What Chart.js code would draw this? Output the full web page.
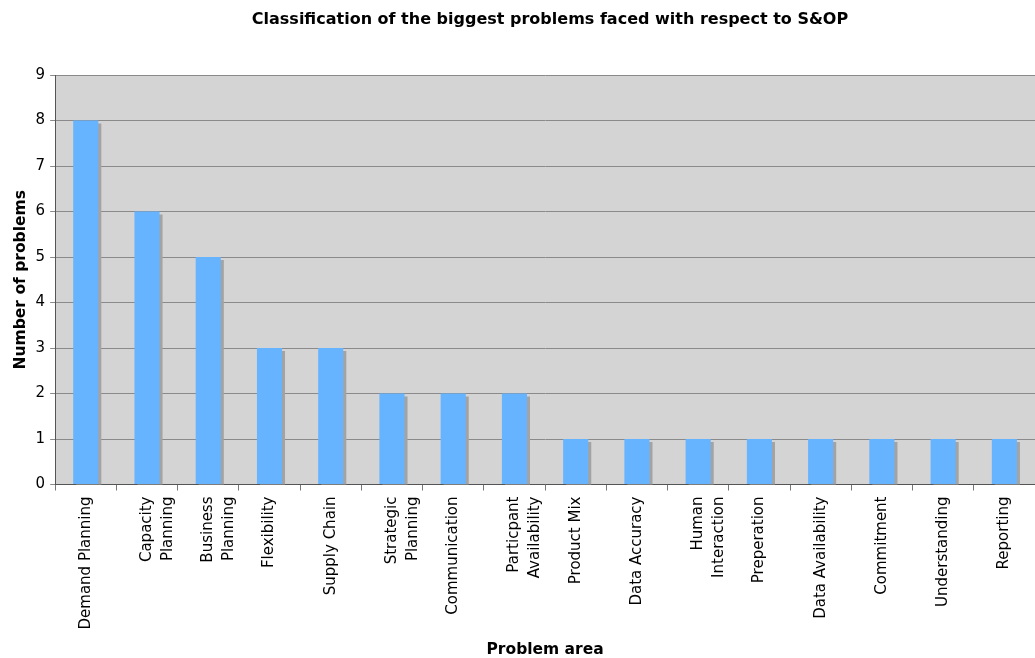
<!DOCTYPE html>
<html>
<head>
<meta charset="utf-8">
<script src="https://cdn.jsdelivr.net/npm/chart.js@4/dist/chart.umd.min.js"></script>
<style>
  html, body { margin: 0; padding: 0; background: #ffffff; }
  #wrap { width: 1035px; height: 658px; position: relative; }
</style>
</head>
<body>
<div id="wrap"><canvas id="c" width="1035" height="658"></canvas></div>
<script>
const categories = [
  "Demand Planning",
  ["Capacity", "Planning"],
  ["Business", "Planning"],
  "Flexibility",
  "Supply Chain",
  ["Strategic", "Planning"],
  "Communication",
  ["Particpant", "Availability"],
  "Product Mix",
  "Data Accuracy",
  ["Human", "Interaction"],
  "Preperation",
  "Data Availability",
  "Commitment",
  "Understanding",
  "Reporting"
];
const problemCounts = [8, 6, 5, 3, 3, 2, 2, 2, 1, 1, 1, 1, 1, 1, 1, 1];
const yTicks = [0, 1, 2, 3, 4, 5, 6, 7, 8, 9];

const chartTitle = "Classification of the biggest problems faced with respect to S&OP";
const xTitle = "Problem area";
const yTitle = "Number of problems";

const FONT = "'DejaVu Sans', Verdana, sans-serif";

const plotBg = {
  id: 'plotBg',
  beforeDraw(chart) {
    const { ctx, chartArea: a } = chart;
    ctx.save();
    ctx.fillStyle = '#d4d4d4';
    ctx.fillRect(a.left, a.top, a.right - a.left, a.bottom - a.top);
    ctx.restore();
  }
};

const topTitle = {
  id: 'topTitle',
  afterDraw(chart) {
    const ctx = chart.ctx;
    ctx.save();
    ctx.fillStyle = '#000000';
    ctx.font = "bold 16px " + FONT;
    ctx.textAlign = 'center';
    ctx.textBaseline = 'middle';
    ctx.fillText(chartTitle, 550, 20);
    ctx.restore();
  }
};

const barShadow = {
  id: 'barShadow',
  beforeDatasetsDraw(chart) {
    const ctx = chart.ctx;
    ctx.save();
    ctx.shadowColor = '#a3a3a3';
    ctx.shadowOffsetX = 3;
    ctx.shadowOffsetY = 3;
    ctx.shadowBlur = 0;
  },
  afterDatasetsDraw(chart) {
    chart.ctx.restore();
  }
};

new Chart(document.getElementById('c'), {
  type: 'bar',
  data: {
    labels: categories,
    datasets: [{
      data: problemCounts,
      backgroundColor: '#66b3ff',
      borderWidth: 0,
      categoryPercentage: 1.0,
      barPercentage: 0.41
    }]
  },
  options: {
    responsive: false,
    animation: false,
    layout: { padding: { left: 12, right: 0, top: 75, bottom: 0 } },
    plugins: {
      legend: { display: false },
      tooltip: { enabled: false },
      title: { display: false }
    },
    scales: {
      x: {
        offset: true,
        grid: {
          offset: true,
          drawOnChartArea: false,
          drawTicks: true,
          tickLength: 6,
          color: '#777777'
        },
        border: { color: '#555555', width: 1 },
        ticks: {
          color: '#000000',
          font: { family: FONT, size: 15, lineHeight: 1.4 },
          maxRotation: 90,
          minRotation: 90,
          autoSkip: false,
          padding: 6
        },
        title: {
          display: true,
          text: xTitle,
          color: '#000000',
          font: { family: FONT, size: 15.5, weight: 'bold', lineHeight: 1 },
          padding: { top: 7, bottom: 0 }
        }
      },
      y: {
        min: 0,
        max: 9,
        afterBuildTicks(scale) {
          scale.ticks = yTicks.map(v => ({ value: v }));
        },
        grid: {
          color: '#8a8a8a',
          tickLength: 5,
          drawTicks: true
        },
        border: { color: '#555555', width: 1 },
        ticks: {
          color: '#000000',
          font: { family: FONT, size: 15 },
          padding: 5
        },
        title: {
          display: true,
          text: yTitle,
          color: '#000000',
          font: { family: FONT, size: 15.5, weight: 'bold' },
          padding: { top: 0, bottom: 0 }
        }
      }
    }
  },
  plugins: [plotBg, barShadow, topTitle]
});
</script>
</body>
</html>
